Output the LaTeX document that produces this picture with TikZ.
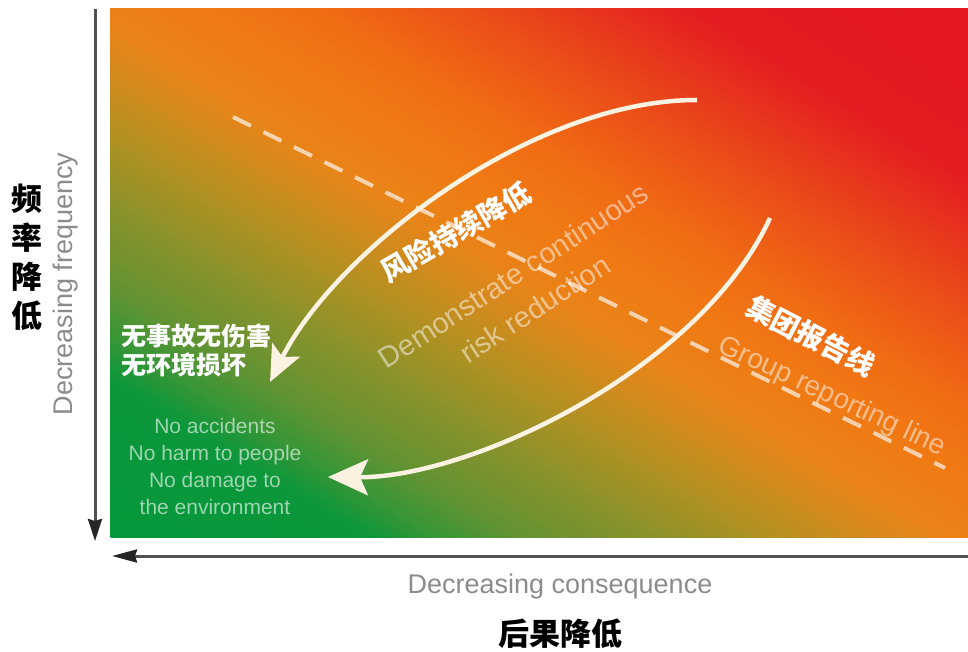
\documentclass[tikz,border=0pt]{standalone}
\usepackage{fontspec}
\setmainfont{Liberation Sans}
\newfontfamily\cjk{Noto Sans CJK SC}
\usetikzlibrary{arrows.meta}
\definecolor{s0}{RGB}{5,152,60}
\definecolor{s1}{RGB}{12,151,58}
\definecolor{s2}{RGB}{55,150,55}
\definecolor{s3}{RGB}{100,147,50}
\definecolor{s4}{RGB}{130,146,45}
\definecolor{s5}{RGB}{170,145,35}
\definecolor{s6}{RGB}{205,140,30}
\definecolor{s7}{RGB}{232,132,25}
\definecolor{s8}{RGB}{240,122,20}
\definecolor{s9}{RGB}{240,108,20}
\definecolor{s10}{RGB}{236,82,24}
\definecolor{s11}{RGB}{231,52,29}
\definecolor{s12}{RGB}{228,28,33}
\definecolor{s13}{RGB}{228,22,35}
\definecolor{axisgray}{RGB}{80,80,80}
\definecolor{labelgray}{RGB}{140,140,140}
\definecolor{cream}{RGB}{252,242,225}
% one segment of the diagonal colour ramp: t0, t1, colour0, colour1, steps
\newcommand\gradseg[5]{%
  \foreach \j in {1,...,#5}{%
    \pgfmathsetmacro\gtA{2*(#1+(#2-#1)*(\j-1)/#5)}%
    \pgfmathsetmacro\gtB{2*(#1+(#2-#1)*\j/#5)+0.006}%
    \pgfmathsetmacro\gpc{100*(\j-0.5)/#5}%
    \fill[#4!\gpc!#3] (\gtA-2,2) -- (\gtA+2,-2) -- (\gtB+2,-2) -- (\gtB-2,2) -- cycle;
  }}
\begin{document}
\begin{tikzpicture}[x=1pt,y=-1pt,
  axisline/.style={draw=axisgray, line width=3pt},
  axislabel/.style={text=labelgray, font=\fontsize{27}{32}\selectfont, inner sep=0pt},
  cnlabel/.style={text=black, font=\cjk\bfseries\fontsize{31}{39}\selectfont, inner sep=0pt},
  whitecn/.style={text=white, font=\cjk\bfseries\fontsize{28}{34}\selectfont, inner sep=0pt},
  fadedtext/.style={text=white, text opacity=0.5, inner sep=0pt},
  flowarc/.style={draw=cream, line width=4.5pt},
  dashline/.style={draw=white, draw opacity=0.65, line width=4pt, dash pattern=on 20pt off 14pt}
]
\useasboundingbox (0,0) rectangle (968,652);
\fill[white] (0,0) rectangle (968,652);

% risk field: colour ramp from bottom-left (green) to top-right (red)
\begin{scope}
  \clip (110,9) rectangle (968,537);
  \begin{scope}[shift={(110,537)}, x=858pt, y=528pt]
    \gradseg{0}{0.15}{s0}{s1}{6}
    \gradseg{0.15}{0.19}{s1}{s2}{8}
    \gradseg{0.19}{0.24}{s2}{s3}{9}
    \gradseg{0.24}{0.30}{s3}{s4}{8}
    \gradseg{0.30}{0.37}{s4}{s5}{10}
    \gradseg{0.37}{0.43}{s5}{s6}{9}
    \gradseg{0.43}{0.48}{s6}{s7}{8}
    \gradseg{0.48}{0.55}{s7}{s8}{6}
    \gradseg{0.55}{0.62}{s8}{s9}{6}
    \gradseg{0.62}{0.70}{s9}{s10}{9}
    \gradseg{0.70}{0.78}{s10}{s11}{10}
    \gradseg{0.78}{0.84}{s11}{s12}{10}
    \gradseg{0.84}{1.0}{s12}{s13}{4}
  \end{scope}
\end{scope}

% group reporting line
\coordinate (d1) at (233,117);
\coordinate (d2) at (945,468);
\draw[dashline] (d1) -- (d2);

% texts on the field
\node[fadedtext, rotate=33, align=center, font=\fontsize{29}{40}\selectfont] (demo) at (524,292) {Demonstrate continuous\\risk reduction};
\node[fadedtext, rotate=-25, font=\fontsize{28}{32}\selectfont] (grl) at (832,397) {Group reporting line};
\node[whitecn, rotate=30] (fxjd) at (456,232) {风险持续降低};
\node[whitecn, rotate=-27.5] (jtbg) at (811,336) {集团报告线};
\node[text=white, font=\cjk\bfseries\fontsize{25}{29}\selectfont, align=left, anchor=west, inner sep=0pt] (goalcn) at (121,350.5) {无事故无伤害\\无环境损坏};
\node[fadedtext, text opacity=0.6, align=center, font=\fontsize{21}{27}\selectfont] (goalen) at (215,466) {No accidents\\No harm to people\\No damage to\\the environment};

% arcs
\coordinate (a1s) at (697,100);
\coordinate (a1e) at (270,382);
\draw[flowarc, -{Stealth[length=36pt,width=31pt,inset=8pt]}] (a1s) .. controls (530,100) and (335,252) .. (a1e);
\coordinate (a2s) at (770,218);
\coordinate (a2e) at (328,477);
\draw[flowarc, -{Stealth[length=40pt,width=36pt,inset=8pt]}] (a2s) .. controls (700,370) and (470,478) .. (a2e);

% axes
\coordinate (vy0) at (95,9);
\coordinate (vy1) at (95,541);
\draw[axisline, -{Stealth[length=22pt,width=14pt,inset=2pt,color=black!85]}] (vy0) -- (vy1);
\coordinate (hx0) at (968,556);
\coordinate (hx1) at (112,556);
\draw[axisline, -{Stealth[length=25pt,width=13pt,inset=2pt,color=black!85]}] (hx0) -- (hx1);

% axis labels
\node[axislabel, rotate=90] (freq) at (66,284) {Decreasing frequency};
\node[axislabel] (cons) at (560,587) {Decreasing consequence};
\node[cnlabel, align=center] (pinlv) at (27,257.5) {频\\率\\降\\低};
\node[cnlabel] (houguo) at (560,634) {后果降低};
\end{tikzpicture}
\end{document}
